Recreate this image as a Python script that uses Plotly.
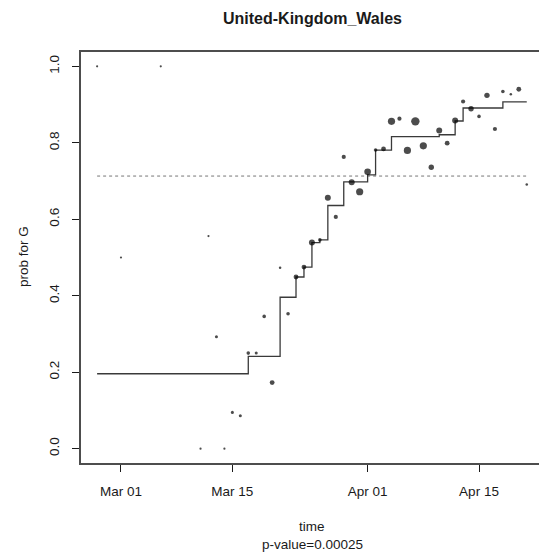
import plotly.graph_objects as go
import pandas as pd

# ---- data ----
point_dates = ["2020-02-27", "2020-03-01", "2020-03-06", "2020-03-11", "2020-03-12",
               "2020-03-13", "2020-03-14", "2020-03-15", "2020-03-16", "2020-03-17",
               "2020-03-18", "2020-03-19", "2020-03-20", "2020-03-21", "2020-03-22",
               "2020-03-23", "2020-03-24", "2020-03-25", "2020-03-26", "2020-03-27",
               "2020-03-28", "2020-03-29", "2020-03-30", "2020-03-31", "2020-04-01",
               "2020-04-02", "2020-04-03", "2020-04-04", "2020-04-05", "2020-04-06",
               "2020-04-07", "2020-04-08", "2020-04-09", "2020-04-10", "2020-04-11",
               "2020-04-12", "2020-04-13", "2020-04-14", "2020-04-15", "2020-04-16",
               "2020-04-17", "2020-04-18", "2020-04-19", "2020-04-20", "2020-04-21"]
point_probs = [1.0, 0.5, 1.0, 0.0, 0.556,
               0.293, 0.0, 0.095, 0.086, 0.25,
               0.25, 0.346, 0.173, 0.473, 0.353,
               0.449, 0.475, 0.539, 0.546, 0.656,
               0.606, 0.763, 0.697, 0.672, 0.724,
               0.781, 0.784, 0.856, 0.863, 0.780,
               0.856, 0.792, 0.736, 0.832, 0.799,
               0.858, 0.908, 0.889, 0.869, 0.924,
               0.836, 0.934, 0.927, 0.940, 0.691]
# relative point weights (cex)
point_cex = [0.25, 0.25, 0.25, 0.25, 0.25,
             0.42, 0.25, 0.42, 0.42, 0.5,
             0.42, 0.5, 0.67, 0.35, 0.5,
             0.67, 0.67, 0.83, 0.5, 0.83,
             0.58, 0.58, 0.83, 1.0, 0.92,
             0.5, 0.67, 1.0, 0.58, 1.0,
             1.17, 1.0, 0.75, 0.83, 0.67,
             0.83, 0.58, 0.75, 0.5, 0.75,
             0.58, 0.5, 0.35, 0.67, 0.35]

step_dates = ["2020-02-27", "2020-03-17", "2020-03-21", "2020-03-23", "2020-03-24",
              "2020-03-25", "2020-03-26", "2020-03-27", "2020-03-29", "2020-04-01",
              "2020-04-02", "2020-04-04", "2020-04-10", "2020-04-12", "2020-04-13",
              "2020-04-18", "2020-04-21"]
step_probs = [0.196, 0.2415, 0.396, 0.449, 0.475,
              0.539, 0.546, 0.636, 0.698, 0.716,
              0.781, 0.816, 0.821, 0.857, 0.891,
              0.907, 0.907]

threshold = 0.713
x_tick_dates = ["2020-03-01", "2020-03-15", "2020-04-01", "2020-04-15"]
x_tick_labels = ["Mar 01", "Mar 15", "Apr 01", "Apr 15"]
y_tick_vals = [0.0, 0.2, 0.4, 0.6, 0.8, 1.0]
y_tick_labels = ["0.0", "0.2", "0.4", "0.6", "0.8", "1.0"]

title = "United-Kingdom_Wales"
x_label = "time"
p_label = "p-value=0.00025"
y_label = "prob for G"

# ---- figure ----
FONT = "Liberation Sans, Arial, sans-serif"
INK = "#1a1a1a"

base = pd.Timestamp("2020-03-01")
x_lo = base + pd.Timedelta(days=-5.15)
x_hi = base + pd.Timedelta(days=52.54)

fig = go.Figure()

fig.add_trace(go.Scatter(
    x=[point_dates[0], point_dates[-1]], y=[threshold, threshold],
    mode="lines", line=dict(color="#777777", width=1, dash="dot"),
    hoverinfo="skip", showlegend=False))

fig.add_trace(go.Scatter(
    x=step_dates, y=step_probs, mode="lines", line_shape="hv",
    line=dict(color="#3a3a3a", width=1.3), showlegend=False))

fig.add_trace(go.Scatter(
    x=point_dates, y=point_probs, mode="markers",
    marker=dict(color="black", size=[max(2.2, c * 7.2) for c in point_cex],
                line=dict(width=0)),
    showlegend=False))

fig.update_layout(
    width=539, height=552,
    margin=dict(l=80, r=0, t=51, b=88),
    paper_bgcolor="white", plot_bgcolor="white",
    font=dict(family=FONT, size=13, color=INK),
)

fig.update_xaxes(
    type="date", range=[x_lo, x_hi],
    tickvals=x_tick_dates, ticktext=x_tick_labels,
    ticks="outside", ticklen=7, tickwidth=1, tickcolor=INK,
    showline=False, showgrid=False, zeroline=False, ticklabelstandoff=8,
    tickfont=dict(size=13.5))

fig.update_yaxes(
    range=[-0.04, 1.04],
    tickvals=y_tick_vals, ticktext=y_tick_labels, tickangle=-90,
    ticks="outside", ticklen=7, tickwidth=1, tickcolor=INK,
    showline=False, showgrid=False, zeroline=False, ticklabelstandoff=8,
    tickfont=dict(size=13.5))

# plot frame: open path with left, top and bottom sides (right side is off-picture)
fig.add_shape(type="path", xref="paper", yref="paper",
              path="M 1.05,1 L 0,1 L 0,0 L 1.05,0",
              line=dict(color="#4d4d4d", width=2), fillcolor="rgba(0,0,0,0)", layer="above")

cx = (312 - 80) / 459.0
def py(px):
    return (464 - px) / 413.0

fig.add_annotation(text="<b>%s</b>" % title, x=cx, y=py(18), xref="paper", yref="paper",
                   showarrow=False, xanchor="center", yanchor="middle",
                   font=dict(size=16, family=FONT, color=INK))
fig.add_annotation(text=x_label, x=cx, y=py(526), xref="paper", yref="paper",
                   showarrow=False, xanchor="center", yanchor="middle",
                   font=dict(size=13.5, family=FONT, color=INK))
fig.add_annotation(text=p_label, x=cx, y=py(544), xref="paper", yref="paper",
                   showarrow=False, xanchor="center", yanchor="middle",
                   font=dict(size=13.5, family=FONT, color=INK))
fig.add_annotation(text=y_label, x=(23 - 80) / 459.0, y=py(257), xref="paper", yref="paper",
                   showarrow=False, xanchor="center", yanchor="middle", textangle=-90,
                   font=dict(size=13.5, family=FONT, color=INK))

fig.write_html("out.html", config={"displayModeBar": False},
               post_script="document.body.style.margin='0';")
